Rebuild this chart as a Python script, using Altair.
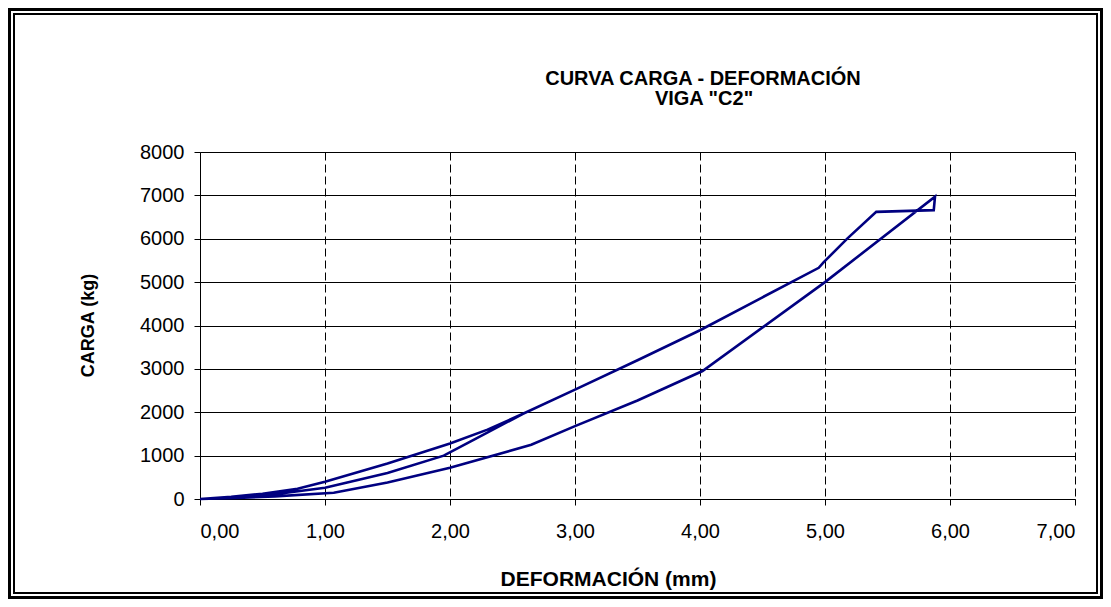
import altair as alt
import pandas as pd

# Cycle 1 loading (middle curve)
deform_c1_up = [0.0, 0.30, 0.60, 1.00, 1.50, 1.95, 2.20, 2.58]
load_c1_up = [0, 40, 110, 260, 600, 1000, 1380, 1960]

# Cycle 1 unloading (upper curve back to origin)
deform_c1_down = [2.30, 2.00, 1.50, 1.00, 0.78, 0.50, 0.25, 0.0]
load_c1_down = [1600, 1280, 820, 400, 235, 120, 50, 0]

# Cycle 2 loading up to the peak
deform_c2_up = [0.25, 0.50, 0.78, 1.00, 1.50, 2.00, 2.30, 2.58, 3.00, 3.50,
                4.00, 4.50, 4.95, 4.99, 5.18, 5.41, 5.87, 5.88]
load_c2_up = [50, 120, 235, 400, 820, 1280, 1600, 1960, 2520, 3200,
              3890, 4650, 5330, 5460, 6010, 6620, 6660, 6970]

# Cycle 2 unloading (lower curve)
deform_c2_down = [5.00, 4.02, 3.50, 3.00, 2.65, 2.00, 1.50, 1.07, 0.60, 0.30, 0.0]
load_c2_down = [5000, 2950, 2270, 1680, 1250, 720, 380, 143, 60, 25, 0]

x_ticks = [0, 1, 2, 3, 4, 5, 6, 7]
y_ticks = [0, 1000, 2000, 3000, 4000, 5000, 6000, 7000, 8000]

title_lines = ["CURVA CARGA - DEFORMACIÓN", 'VIGA "C2"']

deform = deform_c1_up + deform_c1_down + deform_c2_up + deform_c2_down
load = load_c1_up + load_c1_down + load_c2_up + load_c2_down
df = pd.DataFrame({"deformacion": deform, "carga": load, "orden": list(range(len(deform)))})

FONT = "Liberation Sans"

line = alt.Chart(df).mark_line(color="#000080", strokeWidth=2.6).encode(
    x=alt.X(
        "deformacion:Q",
        scale=alt.Scale(domain=[0, 7], nice=False, zero=False),
        axis=alt.Axis(
            values=x_ticks,
            labelExpr="replace(format(datum.value, '.2f'), '.', ',')",
            title="DEFORMACIÓN (mm)",
            grid=True,
            gridDash=[8, 4],
            gridColor="black",
            gridWidth=1,
            tickSize=6,
            labelPadding=16,
            titleX=408,
            titleY=80,
            titleFontSize=21,
            titleAlign="center",
            titleBaseline="middle",
        ),
    ),
    y=alt.Y(
        "carga:Q",
        scale=alt.Scale(domain=[0, 8000], nice=False),
        axis=alt.Axis(
            values=y_ticks,
            format="d",
            title="CARGA (kg)",
            grid=True,
            gridColor="black",
            gridWidth=1,
            tickSize=6,
            labelPadding=10,
            titleX=-112,
            titleY=173,
            titleFontSize=18,
            titleAlign="center",
            titleBaseline="middle",
            titleAngle=-90,
        ),
    ),
    order=alt.Order("orden:Q"),
)

frame_df = pd.DataFrame({"k": [0]})
outer = alt.Chart(frame_df).mark_rect(filled=False, stroke="black", strokeWidth=3).encode(
    x=alt.value(-190.5), x2=alt.value(901.5), y=alt.value(-142.5), y2=alt.value(445.5)
)
inner = alt.Chart(frame_df).mark_rect(filled=False, stroke="black", strokeWidth=2).encode(
    x=alt.value(-186), x2=alt.value(897), y=alt.value(-138), y2=alt.value(441)
)

title1 = alt.Chart(pd.DataFrame({"t": [title_lines[0]]})).mark_text(
    font=FONT, fontSize=20, fontWeight="bold", color="black", align="center", baseline="middle"
).encode(text="t:N", x=alt.value(503), y=alt.value(-73))
title2 = alt.Chart(pd.DataFrame({"t": [title_lines[1]]})).mark_text(
    font=FONT, fontSize=20, fontWeight="bold", color="black", align="center", baseline="middle"
).encode(text="t:N", x=alt.value(504), y=alt.value(-53))

chart = alt.layer(line, outer, inner, title1, title2).properties(
    width=875,
    height=347,
    background="white",
    autosize=alt.AutoSizeParams(type="none"),
    padding={"left": 192, "top": 144, "right": 28, "bottom": 100},
).configure_view(stroke=None).configure_axis(
    labelFont=FONT,
    labelFontSize=20,
    labelColor="black",
    titleFont=FONT,
    titleFontWeight="bold",
    titleColor="black",
    domainColor="black",
    domainWidth=1,
    tickColor="black",
    gridOpacity=1,
)

chart.save("out.html", embed_options={"renderer": "svg", "actions": False})
